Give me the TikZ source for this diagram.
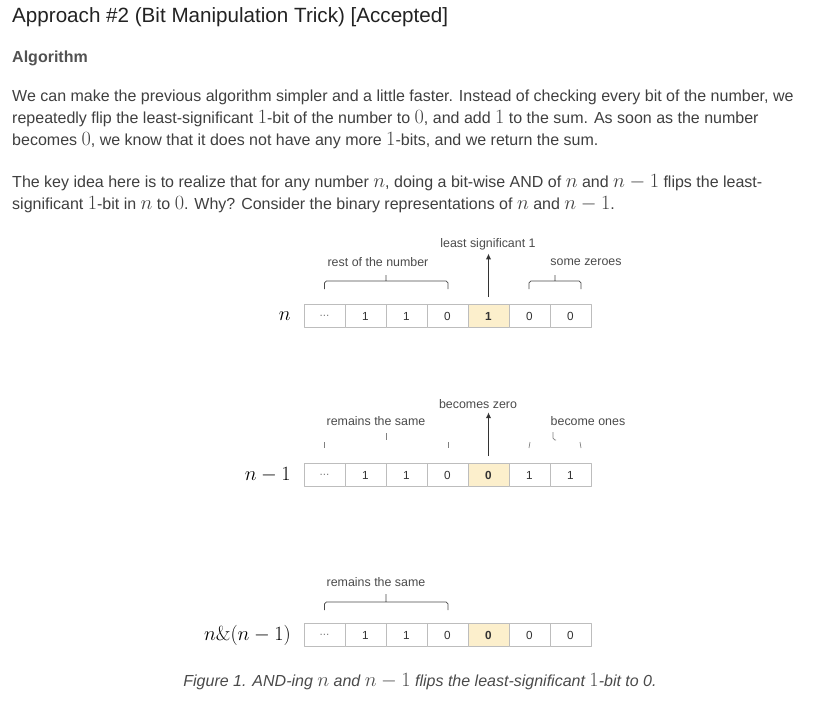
\documentclass[tikz,border=0pt]{standalone}
\usepackage[no-math]{fontspec}
\setmainfont{Liberation Sans}
\usetikzlibrary{arrows.meta}
\definecolor{headgray}{HTML}{222222}
\definecolor{bodygray}{HTML}{3F3F3F}
\definecolor{notegray}{HTML}{4A4A4A}
\definecolor{cellgray}{HTML}{BDBDBD}
\definecolor{lsbfill}{HTML}{FCEFCC}
\newcommand{\km}[1]{{\fontsize{16}{16}\selectfont$#1$}}

\begin{document}
\begin{tikzpicture}[x=0.03cm, y=-0.03cm, line join=round,
    every node/.style={inner sep=0pt},
    para/.style={anchor=base west, text=bodygray, font=\fontsize{13.66}{16}\selectfont},
    note/.style={text=notegray, font=\fontsize{10.6}{12}\selectfont},
    bit/.style={draw=cellgray, line width=0.8pt, fill=white, minimum width=1.23cm, minimum height=0.69cm, font=\fontsize{10}{12}\selectfont, text=black!80},
    lsb/.style={fill=lsbfill, font=\fontsize{10}{12}\selectfont\bfseries},
    pick/.code={\ifnum#1=5 \tikzset{lsb}\fi},
    rowlabel/.style={anchor=east, font=\fontsize{16}{18}\selectfont},
    brace/.style={draw=notegray, line width=0.6pt, rounded corners=1.5pt},
    up/.style={draw=black!80, line width=0.8pt, -{Latex[length=5pt,width=4.5pt]}, shorten <=6pt, shorten >=3pt}]
  \useasboundingbox (0,0) rectangle (831,701);

  \node[anchor=base west, text=headgray, font=\fontsize{17.6}{20}\selectfont] (title) at (12,23) {Approach \#2 (Bit Manipulation Trick) [Accepted]};
  \node[anchor=base west, text=bodygray!90, font=\fontsize{13.66}{16}\selectfont\bfseries] (algo) at (12,62) {Algorithm};
  \node[para] (p1) at (12,101) {We can make the previous algorithm simpler and a little faster. Instead of checking every bit of the number, we};
  \node[para] (p2) at (12,123) {repeatedly flip the least-significant \km{1}-bit of the number to \km{0}, and add \km{1} to the sum. As soon as the number};
  \node[para] (p3) at (12,145) {becomes \km{0}, we know that it does not have any more \km{1}-bits, and we return the sum.};
  \node[para] (p4) at (12,187) {The key idea here is to realize that for any number \km{n}, doing a bit-wise AND of \km{n} and \km{n-1} flips the least-};
  \node[para] (p5) at (12,209) {significant \km{1}-bit in \km{n} to \km{0}. Why? Consider the binary representations of \km{n} and \km{n-1}.};

  \foreach \r/\yy/\bits in {1/316/{1,1,0,1,0,0}, 2/475/{1,1,0,0,1,1}, 3/635/{1,1,0,0,0,0}} {
    \node[bit, text=gray] (r\r c1) at (324.5,\yy) {...};
    \foreach \b [count=\c from 2] in \bits
      \node[bit, pick=\c] (r\r c\c) at (324.5+41*\c-41,\yy) {\b};
  }
  \node[rowlabel] (nlab) at (291,316) {$n$};
  \node[rowlabel] (mlab) at (291,475) {$n-1$};
  \node[rowlabel] (alab) at (291,635) {$n\&(n-1)$};

  \node[note] (lsbtxt) at (488,244) {least significant 1};
  \node[note] (rest) at (378,262) {rest of the number};
  \node[note] (zeroes) at (586,262) {some zeroes};
  \draw[up] (r1c5.north) -- (r1c5.north |- lsbtxt.south);
  \draw[brace] (324.5,289) -- (324.5,281) -- (448,281) -- (448,289) (386,281) -- (386,275);
  \draw[brace] (529,289) -- (529,281) -- (581,281) -- (581,289) (555,281) -- (555,275);

  \node[note] (zero) at (478,404) {becomes zero};
  \node[note] (same) at (376,421) {remains the same};
  \node[note] (ones) at (588,421) {become ones};
  \draw[up] (r2c5.north) -- (r2c5.north |- zero.south);
  \draw[brace, draw=notegray!70] (324,442) -- (324,448) (386,433) -- (386,440) (448,442) -- (448,448);
  \draw[brace, draw=notegray!70] (530,442) -- (529,448) (553,432) -- (553,440) -- (556,440) (580,442) -- (581,448);

  \node[note] (same2) at (376,582) {remains the same};
  \draw[brace] (324.5,610) -- (324.5,602) -- (448,602) -- (448,610) (386,602) -- (386,594);

  \node[anchor=base, text=notegray, font=\fontsize{13.66}{16}\selectfont\itshape] (caption) at (420,686) {Figure 1. AND-ing \km{n} and \km{n-1} flips the least-significant \km{1}-bit to 0.};
\end{tikzpicture}
\end{document}
